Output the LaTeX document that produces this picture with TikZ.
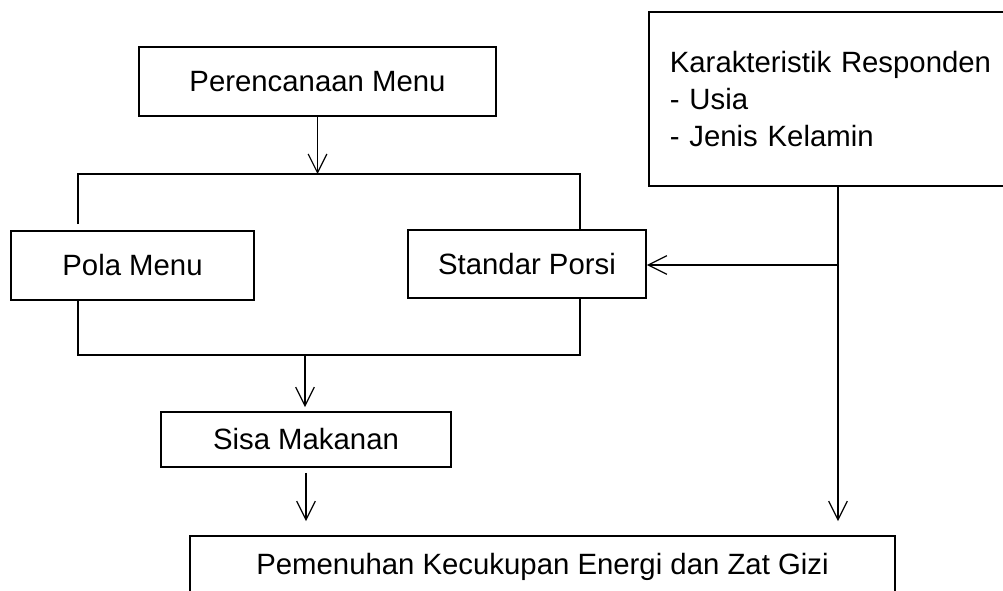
\documentclass[tikz,border=0pt]{standalone}
\usepackage{fontspec}
\setmainfont{Liberation Sans}
\usepackage{tikz}
\usetikzlibrary{arrows.meta}

\tikzset{
  kotak/.style={draw,line width=1.3pt,inner sep=0pt,
    font=\fontsize{22}{28}\selectfont},
  garis/.style={line width=0.9pt},
  panah/.style={garis,-{Straight Barb[length=14pt,width=14pt,line width=0.9pt]}}
}

\begin{document}
\begin{tikzpicture}[x=0.75pt,y=-0.75pt]
    \useasboundingbox (0,0) rectangle (1003,591);

    \node[kotak,minimum width=267.75pt,minimum height=51.75pt] (menu) at (317.5,81.5) {Perencanaan Menu};
    \node[kotak,anchor=north west,minimum width=294pt,minimum height=130.5pt,
      text width=262.5pt,inner xsep=15.75pt,align=left] (resp) at (648,11)
      {Karakteristik Responden\\- Usia\\- Jenis Kelamin};
    \node[kotak,minimum width=182.25pt,minimum height=51.75pt] (pola) at (132.5,265.5) {Pola Menu};
    \node[kotak,minimum width=178.5pt,minimum height=51pt] (porsi) at (527,264) {Standar Porsi};
    \node[kotak,minimum width=217.5pt,minimum height=41.25pt] (sisa) at (306,439.5) {Sisa Makanan};
    \node[kotak,minimum width=528.75pt,minimum height=46.5pt] (gizi) at (542.5,567) {Pemenuhan Kecukupan Energi dan Zat Gizi};

    \coordinate (tl) at (78,174); \coordinate (tr) at (580,174);
    \coordinate (bl) at (78,355); \coordinate (br) at (580,355);
    \coordinate (bm) at (305,355); \coordinate (rk) at (838,265);

    \draw[panah] (menu.south) -- (menu.south |- tl);
    \draw[garis,shorten <=4.5pt] (tl |- pola.north) -- (tl) -- (tr) -- (tr |- porsi.north);
    \draw[garis] (pola.south -| bl) -- (bl) -- (br) -- (porsi.south -| br);
    \draw[panah,shorten >=3pt] (bm) -- (bm |- sisa.north);
    \draw[panah,shorten <=3.75pt,shorten >=10.5pt] (sisa.south) -- (sisa.south |- gizi.north);
    \draw[panah,shorten >=10.5pt] (resp.south -| rk) -- (rk |- gizi.north);
    \draw[panah] (rk) -- (porsi.east |- rk);
\end{tikzpicture}
\end{document}
